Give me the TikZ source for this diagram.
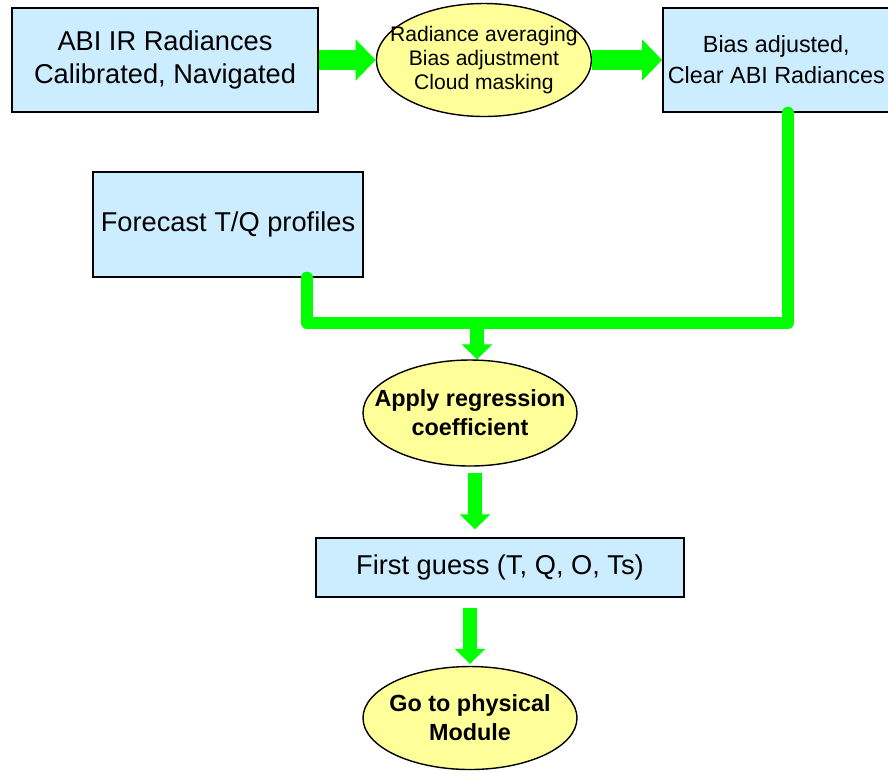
\documentclass[tikz,border=0pt]{standalone}
\usepackage{fontspec}
\setmainfont{Liberation Sans}
\usetikzlibrary{shapes,arrows.meta,positioning}
\definecolor{boxblue}{RGB}{204,236,255}
\definecolor{procyellow}{RGB}{255,255,153}
\definecolor{flowgreen}{RGB}{0,255,0}

\begin{document}
\begin{tikzpicture}[auto]
  \tikzstyle{data} = [rectangle, draw=black, thick, fill=boxblue, align=center, inner sep=2pt, font=\fontsize{15.5}{18.5}\selectfont]
  \tikzstyle{proc} = [ellipse, draw=black, thick, fill=procyellow, align=center, inner xsep=-0.4cm, inner ysep=0pt, minimum width=4.28cm, minimum height=2.12cm, font=\bfseries\fontsize{13.3}{16.4}\selectfont]
  \tikzstyle{line} = [draw=flowgreen, line width=0.24cm, line cap=round, line join=round]
  \tikzstyle{fat} = [draw=flowgreen, line width=0.4cm, -{Triangle[width=0.8cm,length=0.4cm]}]
  \tikzstyle{slim} = [draw=flowgreen, line width=0.28cm, -{Triangle[width=0.6cm,length=0.3cm]}]
  \useasboundingbox (0,0) rectangle (17.76,-15.52);
  % Place nodes
  \node [data, minimum width=6.12cm, minimum height=2.08cm] (abi) at (3.30,-1.20) {ABI IR Radiances\\Calibrated, Navigated};
  \node [proc, minimum width=4.3cm, minimum height=2.26cm, inner xsep=-0.5cm, font=\fontsize{12}{13.5}\selectfont, right=1.14cm of abi] (avg) {Radiance averaging\\Bias adjustment\\Cloud masking};
  \node [data, minimum width=4.54cm, minimum height=2.08cm, inner sep=0pt, font=\fontsize{13.3}{17.6}\selectfont, right=1.4cm of avg] (bias) {Bias adjusted,\\Clear ABI Radiances};
  \node [data, minimum width=5.4cm, minimum height=2.1cm] (forecast) at (4.56,-4.49) {Forecast T/Q profiles};
  \coordinate (merge) at (9.54,-6.46);
  \node [proc] (apply) at (9.40,-8.26) {Apply regression\\coefficient};
  \node [data, minimum width=7.36cm, minimum height=1.18cm] (guess) at (10.0,-11.35) {First guess (T, Q, O, Ts)};
  \node [proc, minimum height=2.06cm] (goto) at (9.40,-14.36) {Go to physical\\Module};

  \path [fat] (abi) -- (avg);
  \path [fat] (avg) -- (bias);
  \path [line] ([xshift=1.58cm]forecast.south) |- (merge) -| ([xshift=0.23cm]bias.south);
  \path [slim] (merge) -- (merge |- apply.north);
  \path [slim, shorten <=0.12cm, shorten >=0.16cm] ([xshift=0.1cm]apply.south) -- ([xshift=0.1cm]apply.south |- guess.north);
  \path [slim, shorten <=0.2cm, shorten >=0.04cm] (guess.south -| goto) -- (goto);
\end{tikzpicture}
\end{document}
